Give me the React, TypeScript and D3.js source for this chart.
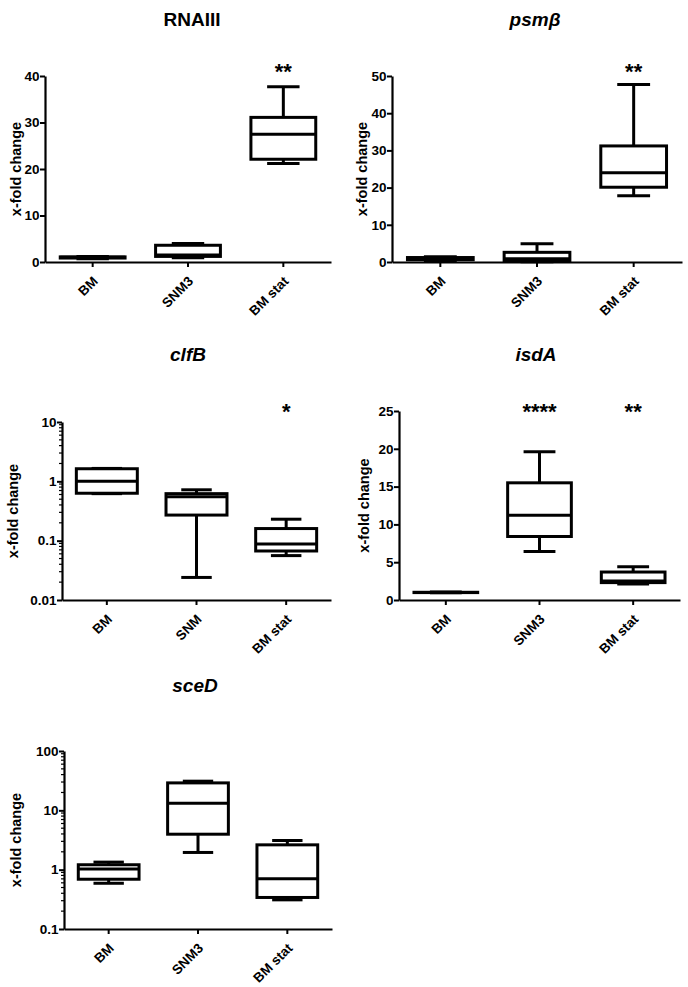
import { useEffect, useRef } from 'react';
import * as d3 from 'd3';

const groupsMain = ['BM', 'SNM3', 'BM stat'];
const groupsClfB = ['BM', 'SNM', 'BM stat'];

// box stats per group: [min, q1, median, q3, max]
const rnaIIIStats = [
  [0.7, 0.85, 1.0, 1.1, 1.2],
  [0.9, 1.2, 1.5, 3.6, 4.0],
  [21.2, 22.1, 27.5, 31.1, 37.7],
];
const psmBStats = [
  [0.4, 0.6, 1.0, 1.2, 1.4],
  [0.1, 0.2, 0.9, 2.6, 4.9],
  [17.8, 20.1, 24.0, 31.2, 47.7],
];
const clfBStats = [
  [0.62, 0.63, 1.0, 1.63, 1.65],
  [0.024, 0.27, 0.55, 0.62, 0.72],
  [0.056, 0.067, 0.088, 0.16, 0.23],
];
const isdAStats = [
  [0.95, 0.98, 1.0, 1.02, 1.05],
  [6.4, 8.4, 11.2, 15.5, 19.6],
  [2.1, 2.3, 2.5, 3.7, 4.4],
];
const sceDStats = [
  [0.59, 0.69, 1.03, 1.21, 1.34],
  [1.95, 3.96, 13.2, 29, 31],
  [0.31, 0.34, 0.7, 2.62, 3.1],
];

const ticksRnaIII = [0, 10, 20, 30, 40];
const ticksPsmB = [0, 10, 20, 30, 40, 50];
const ticksClfB = [0.01, 0.1, 1, 10];
const ticksIsdA = [0, 5, 10, 15, 20, 25];
const ticksSceD = [0.1, 1, 10, 100];

const starsRnaIII = ['', '', '**'];
const starsPsmB = ['', '', '**'];
const starsClfB = ['', '', '*'];
const starsIsdA = ['', '****', '**'];
const starsSceD = ['', '', ''];

const panels = [
  { title: 'RNAIII', italic: false, groups: groupsMain, stats: rnaIIIStats, ticks: ticksRnaIII, stars: starsRnaIII,
    log: false, left: 45, right: 331, top: 76, bottom: 262, titleX: 192, titleY: 26, labelX: 16, starY: 79 },
  { title: 'psm\u03B2', italic: true, groups: groupsMain, stats: psmBStats, ticks: ticksPsmB, stars: starsPsmB,
    log: false, left: 392, right: 682, top: 76, bottom: 262, titleX: 535, titleY: 26, labelX: 362, starY: 79 },
  { title: 'clfB', italic: true, groups: groupsClfB, stats: clfBStats, ticks: ticksClfB, stars: starsClfB,
    log: true, left: 62, right: 331, top: 422, bottom: 600, titleX: 188, titleY: 361, labelX: 13, starY: 419 },
  { title: 'isdA', italic: true, groups: groupsMain, stats: isdAStats, ticks: ticksIsdA, stars: starsIsdA,
    log: false, left: 399, right: 680, top: 411, bottom: 600, titleX: 536, titleY: 361, labelX: 364, starY: 419 },
  { title: 'sceD', italic: true, groups: groupsMain, stats: sceDStats, ticks: ticksSceD, stars: starsSceD,
    log: true, left: 64, right: 332, top: 751, bottom: 929, titleX: 195, titleY: 692, labelX: 16, starY: 0 },
];

const FONT = '"Liberation Sans", Arial, sans-serif';

const App = () => {
  const ref = useRef<SVGSVGElement | null>(null);

  useEffect(() => {
    const svg = d3.select(ref.current);
    svg.selectAll('*').remove();

    panels.forEach(p => {
      const g = svg.append('g').attr('font-family', FONT);
      const lo = p.ticks[0];
      const hi = p.ticks[p.ticks.length - 1];
      const y: any = p.log
        ? d3.scaleLog().domain([lo, hi]).range([p.bottom, p.top])
        : d3.scaleLinear().domain([lo, hi]).range([p.bottom, p.top]);
      const x = d3.scaleBand().domain(p.groups).range([p.left, p.right]);
      const bw = x.bandwidth() * 0.68;
      const cx = (d: string) => x(d)! + x.bandwidth() / 2;

      // title
      g.append('text')
        .attr('x', p.titleX)
        .attr('y', p.titleY)
        .attr('text-anchor', 'middle')
        .attr('font-size', 19)
        .attr('font-weight', 'bold')
        .attr('font-style', p.italic ? 'italic' : 'normal')
        .text(p.title);

      // y axis label
      g.append('text')
        .attr('transform', `translate(${p.labelX},${(p.top + p.bottom) / 2}) rotate(-90)`)
        .attr('text-anchor', 'middle')
        .attr('dominant-baseline', 'central')
        .attr('font-size', 14.5)
        .attr('font-weight', 'bold')
        .text('x-fold change');

      // y axis
      const yAxis = d3.axisLeft(y)
        .tickValues(p.ticks)
        .tickSize(5)
        .tickPadding(0.5)
        .tickSizeOuter(0)
        .tickFormat((d: any) => String(d));
      const ya = g.append('g').attr('transform', `translate(${p.left},0)`).call(yAxis);
      ya.select('.domain').attr('stroke', '#000').attr('stroke-width', 2.2);
      ya.selectAll('.tick line').attr('stroke', '#000').attr('stroke-width', 2);
      ya.selectAll('.tick text')
        .attr('font-size', 13.5)
        .attr('font-weight', 'bold')
        .attr('fill', '#000')
        .attr('font-family', FONT);

      if (p.log) {
        const majors = new Set(p.ticks.map(t => +t.toPrecision(6)));
        const minors = y.ticks().filter((t: number) => !majors.has(+t.toPrecision(6)));
        g.append('g')
          .selectAll('line')
          .data(minors)
          .enter()
          .append('line')
          .attr('x1', p.left - 3)
          .attr('x2', p.left)
          .attr('y1', (d: number) => y(d))
          .attr('y2', (d: number) => y(d))
          .attr('stroke', '#000')
          .attr('stroke-width', 1.2);
      }

      // x axis
      const xAxis = d3.axisBottom(x).tickSize(5).tickSizeOuter(0).tickFormat(() => '');
      const xa = g.append('g').attr('transform', `translate(0,${p.bottom})`).call(xAxis);
      xa.select('.domain').attr('stroke', '#000').attr('stroke-width', 2.2);
      xa.selectAll('.tick line').attr('stroke', '#000').attr('stroke-width', 2);

      g.selectAll('.xlabel')
        .data(p.groups)
        .enter()
        .append('text')
        .attr('class', 'xlabel')
        .attr('transform', d => `translate(${cx(d) + 6},${p.bottom + 20}) rotate(-45)`)
        .attr('text-anchor', 'end')
        .attr('font-size', 13.5)
        .attr('font-weight', 'bold')
        .text(d => d);

      // boxes
      const boxes = g.selectAll('.box')
        .data(p.stats.map((s, i) => ({ s, grp: p.groups[i], star: p.stars[i] })))
        .enter()
        .append('g')
        .attr('class', 'box');

      boxes.append('line')
        .attr('x1', d => cx(d.grp)).attr('x2', d => cx(d.grp))
        .attr('y1', d => y(d.s[0])).attr('y2', d => y(d.s[4]))
        .attr('stroke', '#000').attr('stroke-width', 3);
      [0, 4].forEach(k => {
        boxes.append('line')
          .attr('x1', d => cx(d.grp) - bw / 4).attr('x2', d => cx(d.grp) + bw / 4)
          .attr('y1', d => y(d.s[k])).attr('y2', d => y(d.s[k]))
          .attr('stroke', '#000').attr('stroke-width', 3);
      });
      boxes.append('rect')
        .attr('x', d => cx(d.grp) - bw / 2)
        .attr('width', bw)
        .attr('y', d => y(d.s[3]))
        .attr('height', d => Math.max(0, y(d.s[1]) - y(d.s[3])))
        .attr('fill', '#fff')
        .attr('stroke', '#000')
        .attr('stroke-width', 3);
      boxes.append('line')
        .attr('x1', d => cx(d.grp) - bw / 2).attr('x2', d => cx(d.grp) + bw / 2)
        .attr('y1', d => y(d.s[2])).attr('y2', d => y(d.s[2]))
        .attr('stroke', '#000').attr('stroke-width', 3);

      boxes.filter(d => d.star !== '')
        .append('text')
        .attr('x', d => cx(d.grp))
        .attr('y', p.starY)
        .attr('text-anchor', 'middle')
        .attr('font-size', 22)
        .attr('font-weight', 'bold')
        .text(d => d.star);
    });
  }, []);

  return (
    <svg
      ref={ref}
      width={688}
      height={987}
      style={{ position: 'absolute', left: 0, top: 0, background: '#fff' }}
    />
  );
};

export default App;
